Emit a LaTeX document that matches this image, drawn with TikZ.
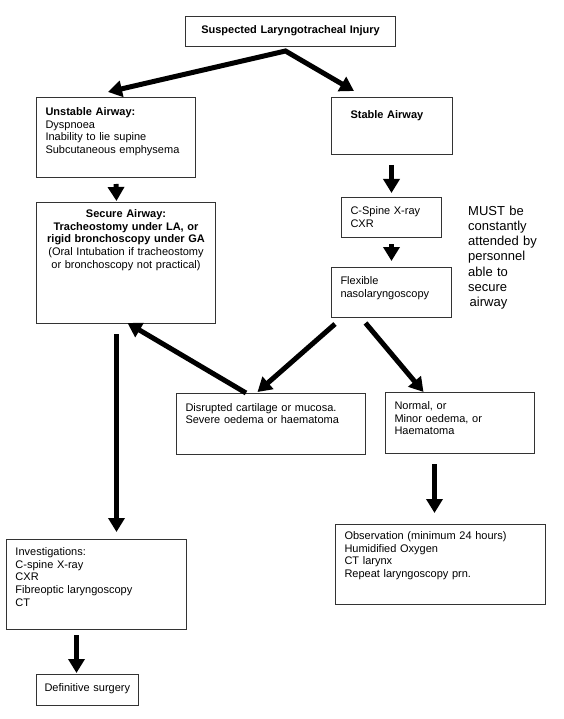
\documentclass[tikz,border=0pt]{standalone}
\usepackage{fontspec}
\setmainfont{Liberation Sans}
\usepackage{tikz}
\usetikzlibrary{arrows.meta}

\begin{document}
\begin{tikzpicture}[x=1pt,y=-1pt,font=\fontsize{11}{12.65}\selectfont,
                        >={Triangle[length=14pt,width=16pt]},
                        box/.style={draw=black!80,line width=1pt,anchor=north west,align=left,
                                    inner xsep=9pt,inner ysep=7.5pt,text height=9.5pt},
                        flow/.style={line width=5pt,->}]
                        \useasboundingbox (0,0) rectangle (563,719);
                        \node[box,align=center,inner xsep=8pt,text width=194pt,text depth=5.5pt] (Inj) at (185,16) {\textbf{Suspected Laryngotracheal Injury}};
                        \node[box,text width=141pt,text height=10.5pt,text depth=54.5pt] (Unst) at (36,97) {\textbf{Unstable Airway:}\\Dyspnoea\\Inability to lie supine\\Subcutaneous emphysema};
                        \node[box,inner xsep=19pt,text width=83pt,text height=13.5pt,text depth=28.5pt] (Stab) at (331,97) {\textbf{Stable Airway}};
                        \node[box,align=center,text width=161pt,text height=7.5pt,text depth=98.5pt] (Sec) at (36,202) {\textbf{Secure Airway:}\\\textbf{Tracheostomy under LA, or}\\\textbf{rigid bronchoscopy under GA}\\(Oral Intubation if tracheostomy\\or bronchoscopy not practical)};
                        \node[box,text width=82pt,text depth=15.5pt] (Cxr) at (341,197) {C-Spine X-ray\\CXR};
                        \node[box,text width=102pt,text depth=25.5pt] (Flex) at (331,267) {Flexible\\nasolaryngoscopy};
                        \node[box,text width=171pt,text height=10pt,text depth=36pt] (Disr) at (176,393) {Disrupted cartilage or mucosa.\\Severe oedema or haematoma};
                        \node[box,text width=131pt,text depth=36.5pt] (Norm) at (385,392) {Normal, or\\Minor oedema, or\\Haematoma};
                        \node[box,text width=192pt,text height=7.5pt,text depth=57.5pt] (Obs) at (335,524) {Observation (minimum 24 hours)\\Humidified Oxygen\\CT larynx\\Repeat laryngoscopy prn.};
                        \node[box,text width=162pt,text height=8.5pt,text depth=66.5pt] (Inv) at (6,539) {Investigations:\\C-spine X-ray\\CXR\\Fibreoptic laryngoscopy\\CT};
                        \node[box,inner xsep=8pt,text width=86pt,text depth=6.5pt] (Surg) at (36,674) {Definitive surgery};
                        \node[anchor=base west,align=left,inner sep=0pt,text width=90pt,font=\fontsize{13}{15.3}\selectfont] (Must) at (468,215) {MUST be\\constantly\\attended by\\personnel\\able to\\secure\\\hspace*{1.5pt}airway};
                        % the fork under the injury box
                        \draw[flow,<->] ([xshift=-8pt,yshift=5pt]Unst.north) -- ([xshift=-5pt,yshift=-4pt]Inj.south) -- ([xshift=-38pt,yshift=6pt]Stab.north);
                        \path[flow]
                            ([yshift=-6pt]Unst.south) edge ([xshift=-9.5pt,yshift=1pt]Sec.north)
                            ([xshift=-0.5pt,yshift=-10pt]Stab.south) edge ([yshift=4pt]Cxr.north)
                            ([yshift=-6pt]Cxr.south) edge ([yshift=6pt]Flex.north)
                            ([xshift=4pt,yshift=-6pt]Flex.south west) edge ([xshift=-13.5pt,yshift=1pt]Disr.north)
                            ([xshift=-26pt,yshift=-5pt]Flex.south) edge ([xshift=-36.5pt]Norm.north)
                            ([xshift=-25pt]Disr.north) edge ([xshift=1.5pt,yshift=1pt]Sec.south)
                            ([xshift=-9.5pt,yshift=-10pt]Sec.south) edge ([xshift=20pt,yshift=7pt]Inv.north)
                            ([xshift=-25.5pt,yshift=-10pt]Norm.south) edge ([xshift=-6pt,yshift=11pt]Obs.north)
                            ([xshift=-20pt,yshift=-5pt]Inv.south) edge ([xshift=-11pt,yshift=1pt]Surg.north);
                    \end{tikzpicture}
\end{document}
